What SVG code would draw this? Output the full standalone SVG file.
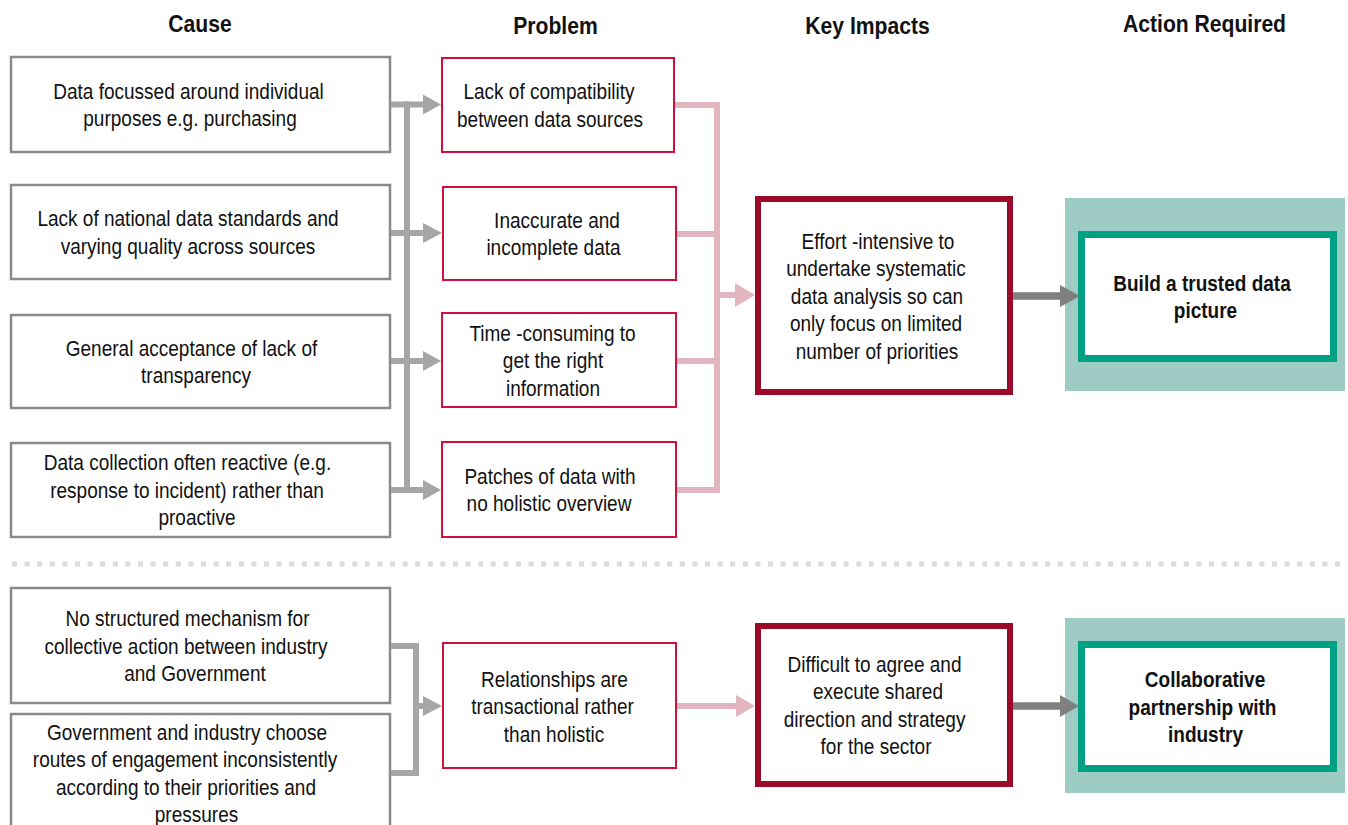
<svg xmlns="http://www.w3.org/2000/svg" width="1348" height="825" viewBox="0 0 1348 825">
<style>
text{font-family:"Liberation Sans",Arial,sans-serif;fill:#111;text-anchor:middle}
.t{font-size:22px}
.b{font-size:22px;font-weight:bold}
.h{font-size:24px;font-weight:bold}
.cause{fill:#fff;stroke:#8a8a8a;stroke-width:2.5}
.prob{fill:#fff;stroke:#d0103a;stroke-width:2}
.key{fill:#fff;stroke:#9b0a28;stroke-width:6}
.bg{fill:#9ecbc3}
.act{fill:#fff;stroke:#00a084;stroke-width:7}
.g{stroke:#a6a6a6;stroke-width:6;fill:none}
.ga{fill:#a6a6a6}
.p{stroke:#e3b5be;stroke-width:6;fill:none}
.pa{fill:#e3b5be}
.d{stroke:#808080;stroke-width:7.5;fill:none}
.da{fill:#808080}
</style>

<g id="headers">
<text class="h" transform="translate(200,0) scale(0.88,1)" x="0" y="32">Cause</text>
<text class="h" transform="translate(555.5,0) scale(0.88,1)" x="0" y="34">Problem</text>
<text class="h" transform="translate(867.5,0) scale(0.88,1)" x="0" y="34">Key Impacts</text>
<text class="h" transform="translate(1204.5,0) scale(0.88,1)" x="0" y="32">Action Required</text>
</g>

<g id="separator">
<line x1="12" y1="564" x2="1345" y2="564" stroke="#dcdcdc" stroke-width="5" stroke-dasharray="5 7.6"/>
</g>

<g id="cause1">
<rect class="cause" x="11" y="57" width="379" height="95"/>
<text class="t" transform="translate(188.5,0) scale(0.865,1)" x="0" y="98.6">Data focussed around individual</text>
<text class="t" transform="translate(190,0) scale(0.865,1)" x="0" y="126.1">purposes e.g. purchasing</text>
</g>
<g id="cause2">
<rect class="cause" x="11" y="185" width="379" height="94"/>
<text class="t" transform="translate(188,0) scale(0.865,1)" x="0" y="226.2">Lack of national data standards and</text>
<text class="t" transform="translate(188,0) scale(0.865,1)" x="0" y="253.7">varying quality across sources</text>
</g>
<g id="cause3">
<rect class="cause" x="11" y="315" width="379" height="93"/>
<text class="t" transform="translate(191.5,0) scale(0.865,1)" x="0" y="355.7">General acceptance of lack of</text>
<text class="t" transform="translate(196,0) scale(0.865,1)" x="0" y="383.2">transparency</text>
</g>
<g id="cause4">
<rect class="cause" x="11" y="443" width="379" height="94"/>
<text class="t" transform="translate(187.5,0) scale(0.865,1)" x="0" y="470.5">Data collection often reactive (e.g.</text>
<text class="t" transform="translate(187,0) scale(0.865,1)" x="0" y="498">response to incident) rather than</text>
<text class="t" transform="translate(197,0) scale(0.865,1)" x="0" y="525.5">proactive</text>
</g>
<g id="cause5">
<rect class="cause" x="11" y="588" width="379" height="115"/>
<text class="t" transform="translate(187.5,0) scale(0.865,1)" x="0" y="626.5">No structured mechanism for</text>
<text class="t" transform="translate(186,0) scale(0.865,1)" x="0" y="654">collective action between industry</text>
<text class="t" transform="translate(195,0) scale(0.865,1)" x="0" y="681.5">and Government</text>
</g>
<g id="cause6">
<rect class="cause" x="11" y="714" width="379" height="125"/>
<text class="t" transform="translate(187,0) scale(0.865,1)" x="0" y="740">Government and industry choose</text>
<text class="t" transform="translate(185,0) scale(0.865,1)" x="0" y="767.5">routes of engagement inconsistently</text>
<text class="t" transform="translate(186,0) scale(0.865,1)" x="0" y="795">according to their priorities and</text>
<text class="t" transform="translate(196.5,0) scale(0.865,1)" x="0" y="822.5">pressures</text>
</g>

<g id="problem1">
<rect class="prob" x="442" y="58" width="232" height="94"/>
<text class="t" transform="translate(549,0) scale(0.865,1)" x="0" y="99.2">Lack of compatibility</text>
<text class="t" transform="translate(550,0) scale(0.865,1)" x="0" y="126.7">between data sources</text>
</g>
<g id="problem2">
<rect class="prob" x="443" y="187" width="233" height="93"/>
<text class="t" transform="translate(557,0) scale(0.865,1)" x="0" y="227.8">Inaccurate and</text>
<text class="t" transform="translate(553.5,0) scale(0.865,1)" x="0" y="255.3">incomplete data</text>
</g>
<g id="problem3">
<rect class="prob" x="442" y="313" width="234" height="94"/>
<text class="t" transform="translate(552.5,0) scale(0.865,1)" x="0" y="341">Time -consuming to</text>
<text class="t" transform="translate(553,0) scale(0.865,1)" x="0" y="368.5">get the right</text>
<text class="t" transform="translate(553,0) scale(0.865,1)" x="0" y="396">information</text>
</g>
<g id="problem4">
<rect class="prob" x="442" y="442" width="234" height="95"/>
<text class="t" transform="translate(550,0) scale(0.865,1)" x="0" y="483.8">Patches of data with</text>
<text class="t" transform="translate(549,0) scale(0.865,1)" x="0" y="511.3">no holistic overview</text>
</g>
<g id="problem5">
<rect class="prob" x="443" y="643" width="233" height="125"/>
<text class="t" transform="translate(554.5,0) scale(0.865,1)" x="0" y="687">Relationships are</text>
<text class="t" transform="translate(552.5,0) scale(0.865,1)" x="0" y="714.5">transactional rather</text>
<text class="t" transform="translate(554,0) scale(0.865,1)" x="0" y="742">than holistic</text>
</g>

<g id="impact1">
<rect class="key" x="758" y="199" width="252" height="193"/>
<text class="t" transform="translate(878,0) scale(0.865,1)" x="0" y="248.8">Effort -intensive to</text>
<text class="t" transform="translate(876,0) scale(0.865,1)" x="0" y="276.3">undertake systematic</text>
<text class="t" transform="translate(877,0) scale(0.865,1)" x="0" y="303.8">data analysis so can</text>
<text class="t" transform="translate(876,0) scale(0.865,1)" x="0" y="331.3">only focus on limited</text>
<text class="t" transform="translate(877,0) scale(0.865,1)" x="0" y="358.8">number of priorities</text>
</g>
<g id="impact2">
<rect class="key" x="758" y="626" width="252" height="158"/>
<text class="t" transform="translate(874.5,0) scale(0.865,1)" x="0" y="672">Difficult to agree and</text>
<text class="t" transform="translate(878,0) scale(0.865,1)" x="0" y="699.5">execute shared</text>
<text class="t" transform="translate(874.5,0) scale(0.865,1)" x="0" y="727">direction and strategy</text>
<text class="t" transform="translate(876,0) scale(0.865,1)" x="0" y="754.5">for the sector</text>
</g>

<g id="action1">
<rect class="bg" x="1065" y="198" width="280" height="193"/>
<rect class="act" x="1081.5" y="234.5" width="252" height="124"/>
<text class="b" transform="translate(1202,0) scale(0.865,1)" x="0" y="291">Build a trusted data</text>
<text class="b" transform="translate(1205.5,0) scale(0.865,1)" x="0" y="318">picture</text>
</g>
<g id="action2">
<rect class="bg" x="1065" y="618" width="280" height="175"/>
<rect class="act" x="1081.5" y="644.5" width="252" height="124"/>
<text class="b" transform="translate(1205,0) scale(0.865,1)" x="0" y="687.5">Collaborative</text>
<text class="b" transform="translate(1202.5,0) scale(0.865,1)" x="0" y="715">partnership with</text>
<text class="b" transform="translate(1205.5,0) scale(0.865,1)" x="0" y="742.5">industry</text>
</g>

<g id="connectors">
<line class="g" x1="391" y1="104.5" x2="425" y2="104.5"/>
<line class="g" x1="391" y1="233" x2="425" y2="233"/>
<line class="g" x1="391" y1="361" x2="425" y2="361"/>
<line class="g" x1="391" y1="490" x2="425" y2="490"/>
<line class="g" x1="407" y1="101.5" x2="407" y2="493"/>
<polygon class="ga" points="423,94.5 441,104.5 423,114.5"/>
<polygon class="ga" points="423,223 442,233 423,243"/>
<polygon class="ga" points="423,351 441,361 423,371"/>
<polygon class="ga" points="423,480 441,490 423,500"/>

<path class="g" d="M391 646 H416 V773 H391"/>
<line class="g" x1="416" y1="706" x2="425" y2="706"/>
<polygon class="ga" points="423,696 442,706 423,716"/>

<line class="p" x1="675" y1="105" x2="717" y2="105"/>
<line class="p" x1="677" y1="234" x2="717" y2="234"/>
<line class="p" x1="677" y1="361" x2="717" y2="361"/>
<line class="p" x1="677" y1="490" x2="717" y2="490"/>
<line class="p" x1="717" y1="102" x2="717" y2="493"/>
<line class="p" x1="717" y1="295" x2="737" y2="295"/>
<polygon class="pa" points="735,283 755,295 735,307"/>

<line class="p" x1="677" y1="706" x2="738" y2="706"/>
<polygon class="pa" points="736,695 755,706 736,717"/>

<line class="d" x1="1013" y1="296" x2="1062" y2="296"/>
<polygon class="da" points="1060,285 1080,296 1060,307"/>
<line class="d" x1="1013" y1="706" x2="1062" y2="706"/>
<polygon class="da" points="1060,695 1079,706 1060,717"/>
</g>
</svg>
